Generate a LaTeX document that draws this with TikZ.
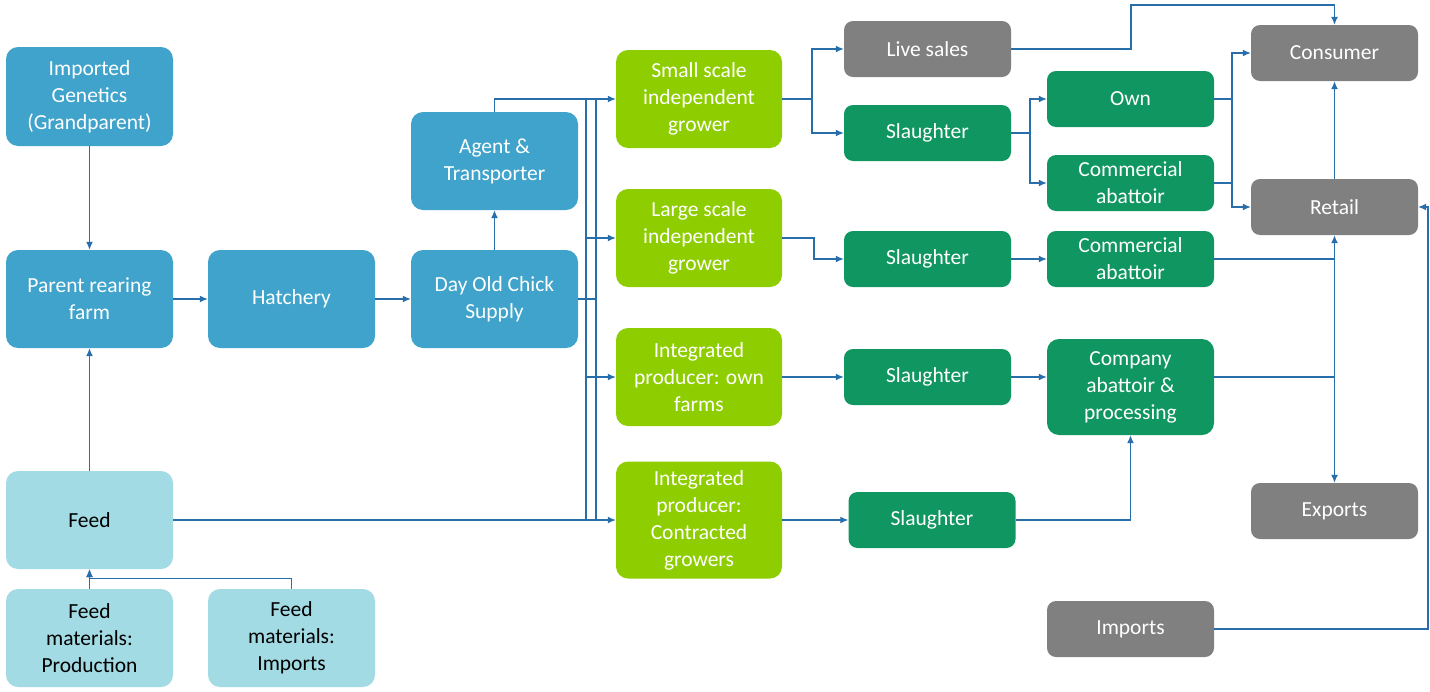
\documentclass[tikz,border=0pt]{standalone}
\usepackage{fontspec}
\setmainfont{Carlito}
\usetikzlibrary{arrows.meta,calc}
\definecolor{cblue}{RGB}{64,163,203}
\definecolor{clight}{RGB}{163,219,228}
\definecolor{clime}{RGB}{142,206,0}
\definecolor{cdgreen}{RGB}{16,150,96}
\definecolor{cgray}{RGB}{128,128,128}
\definecolor{cline}{RGB}{40,110,170}
\tikzset{
  box/.style={rectangle, rounded corners=12pt, draw=none, minimum width=167pt, minimum height=98pt,
    align=center, text=white, font=\fontsize{21.5}{27}\selectfont, inner sep=2pt},
  bluebox/.style={box, fill=cblue},
  lightbox/.style={box, fill=clight, text=black},
  limebox/.style={box, fill=clime, minimum width=166pt},
  greenbox/.style={box, fill=cdgreen, minimum height=56pt, rounded corners=9pt},
  graybox/.style={box, fill=cgray, minimum height=56pt, rounded corners=9pt},
  conn/.style={draw=cline, line width=1.2pt},
  arr/.style={conn, -{Latex[length=8pt,width=7pt]}},
  darr/.style={conn, {Latex[length=8pt,width=7pt]}-{Latex[length=8pt,width=7pt]}},
}
\begin{document}
\begin{tikzpicture}[x=1pt,y=-1pt]
\useasboundingbox (0,0) rectangle (1430,691);
% left column
\node[bluebox, minimum height=99pt] (gen) at (89.5,96.5) {Imported\\Genetics\\(Grandparent)};
\node[bluebox] (parent) at (89.5,299) {Parent rearing\\farm};
\node[bluebox] (hatch) at (291.5,299) {Hatchery};
\node[bluebox] (doc) at (494.5,299) {Day Old Chick\\Supply};
\node[bluebox] (agent) at (494.5,161) {Agent \&\\Transporter};
\node[lightbox] (feed) at (89.5,520) {Feed};
\node[lightbox] (fmp) at (89.5,638) {Feed\\materials:\\Production};
\node[lightbox] (fmi) at (291.5,638) {Feed\\materials:\\Imports};
% growers
\node[limebox] (small) at (699,99) {Small scale\\independent\\grower};
\node[limebox] (large) at (699,238) {Large scale\\independent\\grower};
\node[limebox] (intown) at (699,377) {Integrated\\producer: own\\farms};
\node[limebox, minimum height=117pt] (contr) at (699,520) {Integrated\\producer:\\Contracted\\growers};
% second column
\node[graybox] (live) at (927.5,49) {Live sales};
\node[greenbox] (sl1) at (927.5,133) {Slaughter};
\node[greenbox] (sl2) at (927.5,259) {Slaughter};
\node[greenbox] (sl3) at (927.5,377) {Slaughter};
\node[greenbox] (sl4) at (932,520) {Slaughter};
% third column
\node[greenbox] (own) at (1130.5,99) {Own};
\node[greenbox] (cab1) at (1130.5,183) {Commercial\\abattoir};
\node[greenbox] (cab2) at (1130.5,259) {Commercial\\abattoir};
\node[greenbox, minimum height=96pt, rounded corners=12pt] (comp) at (1130.5,387) {Company\\abattoir \&\\processing};
\node[graybox] (imp) at (1130.5,629) {Imports};
% right column
\node[graybox] (cons) at (1334.5,53) {Consumer};
\node[graybox] (retail) at (1334.5,207) {Retail};
\node[graybox] (exp) at (1334.5,511) {Exports};
% coordinates
\coordinate (bxa) at (586,99);
\coordinate (bxb) at (596,99);
\coordinate (bya) at (586,520);
\coordinate (byb) at (596,520);
\coordinate (ce) at (1214,377);
% left connectors
\draw[arr] (gen.south) -- (parent.north);
\draw[arr] (feed.north) -- (parent.south);
\draw[arr] (fmp.north) -- (feed.south);
\draw[arr] (fmi.north) -- ++(0,-10) -| (feed.south);
\draw[arr] (parent.east) -- (hatch.west);
\draw[arr] (hatch.east) -- (doc.west);
\draw[arr] (doc.north) -- (agent.south);
\draw[arr] (agent.north) |- (small.west);
% bus
\draw[conn] (bxa) -- (bya);
\draw[conn] (bxb) -- (byb);
\draw[conn] (doc.east) -- (doc.east -| bxb);
\draw[arr] (large.west -| bxa) -- (large.west);
\draw[arr] (intown.west -| bxa) -- (intown.west);
\draw[arr] (feed.east) -- (contr.west);
% growers to second column
\draw[arr] (small.east) -- (812,99) |- (live.west);
\draw[arr] (small.east) -- (812,99) |- (sl1.west);
\draw[arr] (large.east) -- (814,238) |- (sl2.west);
\draw[arr] (intown.east) -- (sl3.west);
\draw[arr] (contr.east) -- (sl4.west);
% second to third
\draw[arr] (sl1.east) -- (1030,133) |- (own.west);
\draw[arr] (sl1.east) -- (1030,133) |- (cab1.west);
\draw[arr] (sl2.east) -- (cab2.west);
\draw[arr] (sl3.east) -- (sl3.east -| comp.west);
\draw[arr] (sl4.east) -| (comp.south);
% to consumer / retail
\draw[arr] (live.east) -- (1131,49) -- (1131,5) -| (cons.north);
\draw[arr] (own.east) -- (1232,99) |- (cons.west);
\draw[arr] (own.east) -- (1232,99) |- (retail.west);
\draw[conn] (cab1.east) -- (1232,183);
\draw[arr] (retail.north) -- (cons.south);
\draw[conn] (cab2.east) -- (cab2.east -| retail.south);
\draw[conn] (ce) -- (ce -| retail.south);
\draw[darr] (retail.south) -- (exp.north);
\draw[arr] (imp.east) -- (1428,629) |- (retail.east);
\end{tikzpicture}
\end{document}
